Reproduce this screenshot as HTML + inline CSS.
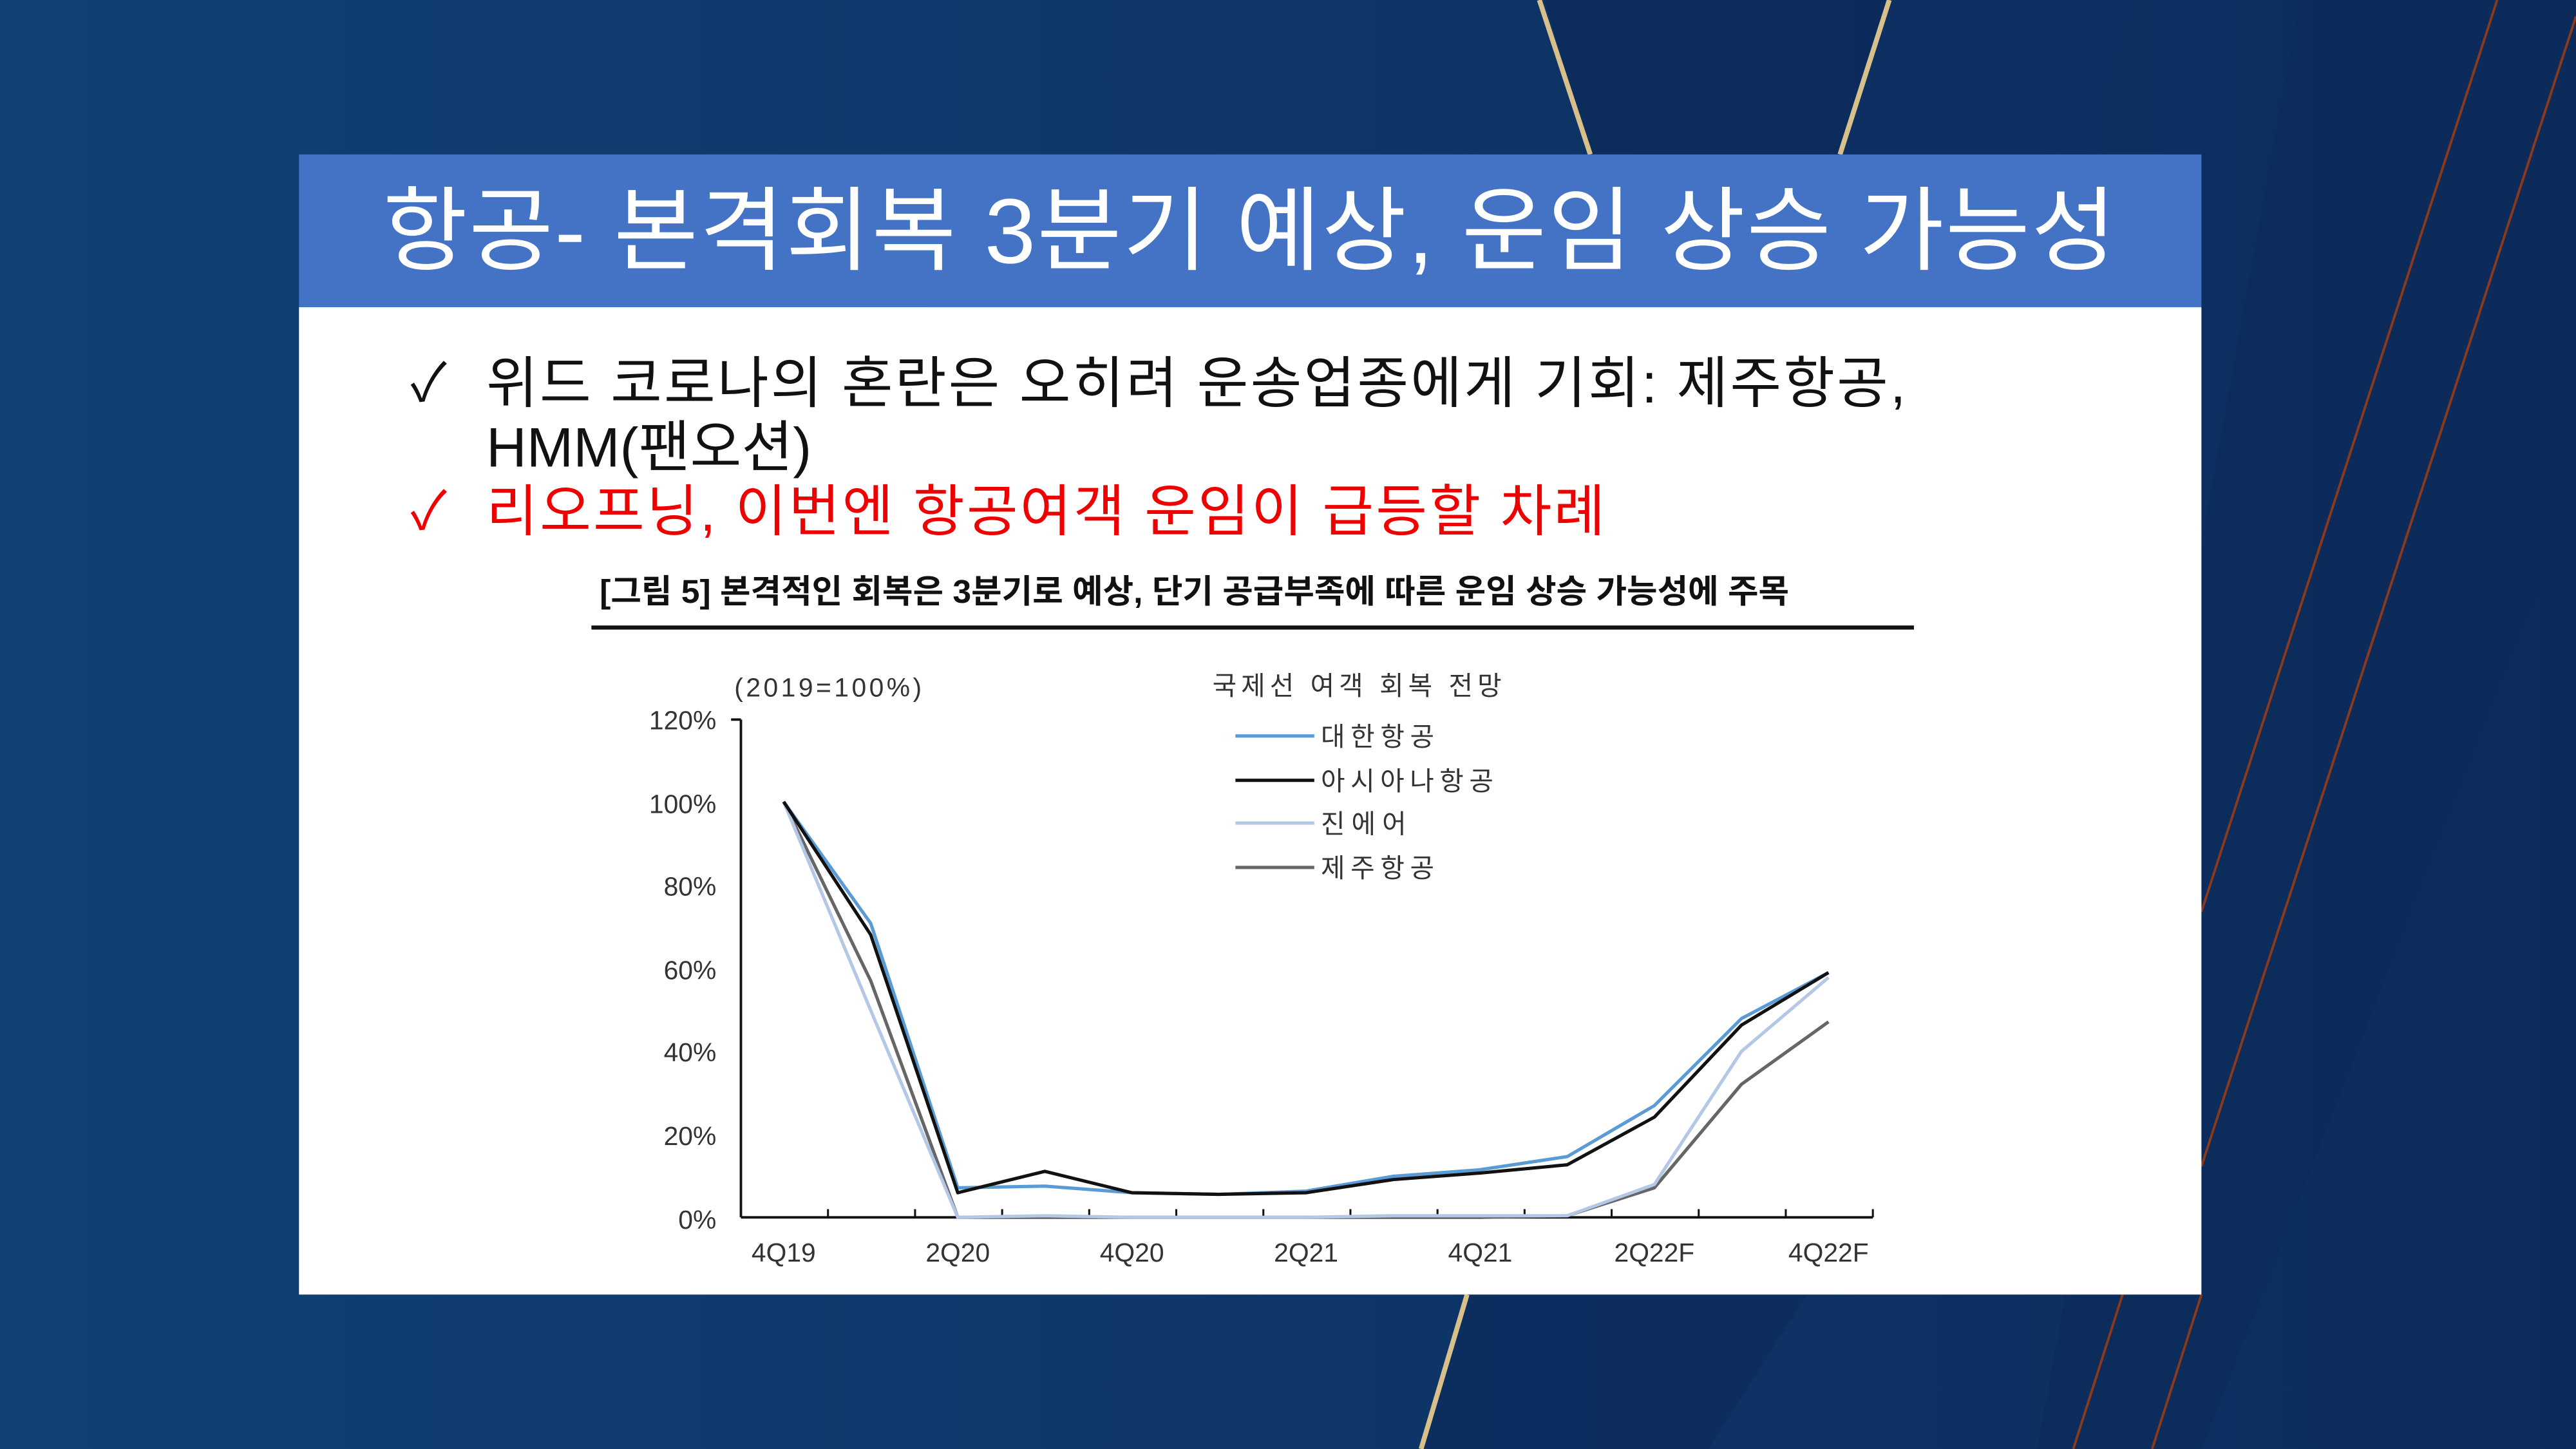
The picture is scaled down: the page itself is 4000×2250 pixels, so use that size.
<!DOCTYPE html>
<html><head><meta charset="utf-8"><style>
html,body{margin:0;padding:0;width:4000px;height:2250px;overflow:hidden;background:#0f3a6e}
svg{display:block}
text{font-family:"Liberation Sans","Noto Sans CJK KR","NanumGothic",sans-serif}
</style></head><body>
<svg width="4000" height="2250" viewBox="0 0 1568 882" preserveAspectRatio="none" xmlns="http://www.w3.org/2000/svg">
<defs>
<linearGradient id="bg" x1="0" y1="0" x2="1" y2="0">
<stop offset="0" stop-color="#114074"/><stop offset="0.6" stop-color="#0e3466"/><stop offset="1" stop-color="#0c2b5c"/>
</linearGradient>
</defs>
<rect width="1568" height="882" fill="url(#bg)"/>
<polygon points="940,0 1150,0 1120,94 968,94" fill="#0c2a5a" opacity="0.8"/>
<polygon points="1150,0 1300,0 1130,560 1120,94" fill="#0d2e60" opacity="0.6"/>
<polygon points="1400,0 1568,0 1568,300 1340,882 1240,882" fill="#0b2a58" opacity="0.5"/>
<polygon points="893,788 1100,788 1040,882 865,882" fill="#0c2a5a" opacity="0.6"/>
<line x1="937" y1="0" x2="968" y2="94" stroke="#d8c08a" stroke-width="3"/>
<line x1="1150" y1="0" x2="1120" y2="94" stroke="#d8c08a" stroke-width="3"/>
<line x1="893" y1="788" x2="865" y2="882" stroke="#d8c08a" stroke-width="3"/>
<line x1="1520" y1="0" x2="1340" y2="555" stroke="#8a3a1a" stroke-width="1.5"/>
<line x1="1568" y1="10" x2="1340" y2="710" stroke="#8a3a1a" stroke-width="1.5"/>
<line x1="1292" y1="788" x2="1262" y2="882" stroke="#8a3a1a" stroke-width="1.5"/>
<line x1="1340" y1="788" x2="1310" y2="882" stroke="#8a3a1a" stroke-width="1.5"/>

<rect x="182" y="94" width="1158" height="93" fill="#4472c4"/>
<text x="233" y="160" font-size="56" fill="#fff" textLength="1055" lengthAdjust="spacing">항공- 본격회복 3분기 예상, 운임 상승 가능성</text>
<rect x="182" y="187" width="1158" height="601" fill="#fff"/>

<text x="250" y="244" font-size="32" fill="#111">✓</text>
<text x="296" y="245" font-size="34" fill="#111" textLength="864" lengthAdjust="spacing">위드 코로나의 혼란은 오히려 운송업종에게 기회: 제주항공,</text>
<text x="296" y="284" font-size="34" fill="#111" textLength="198" lengthAdjust="spacing">HMM(팬오션)</text>
<text x="250" y="322" font-size="32" fill="#e00">✓</text>
<text x="296" y="323" font-size="34" fill="#e00" textLength="681" lengthAdjust="spacing">리오프닝, 이번엔 항공여객 운임이 급등할 차례</text>
<text x="365" y="367" font-size="20" font-weight="bold" fill="#111" textLength="724" lengthAdjust="spacingAndGlyphs">[그림 5] 본격적인 회복은 3분기로 예상, 단기 공급부족에 따른 운임 상승 가능성에 주목</text>
<line x1="360" y1="382" x2="1165" y2="382" stroke="#111" stroke-width="2.5"/>

<text x="447" y="424" font-size="16" fill="#333" textLength="114">(2019=100%)</text>
<text x="738" y="423" font-size="16" fill="#333" textLength="176" lengthAdjust="spacing">국제선 여객 회복 전망</text>
<g font-size="16" fill="#333">
<line x1="752" y1="448" x2="800" y2="448" stroke="#5b9bd5" stroke-width="2"/><text x="804" y="454" textLength="69">대한항공</text>
<line x1="752" y1="475" x2="800" y2="475" stroke="#111" stroke-width="2"/><text x="804" y="481" textLength="105">아시아나항공</text>
<line x1="752" y1="501" x2="800" y2="501" stroke="#b4c7e7" stroke-width="2"/><text x="804" y="507" textLength="52">진에어</text>
<line x1="752" y1="528" x2="800" y2="528" stroke="#666" stroke-width="2"/><text x="804" y="534" textLength="69">제주항공</text>
</g>
<g font-size="16" fill="#333" text-anchor="end">
<text x="436" y="444">120%</text><text x="436" y="495">100%</text><text x="436" y="545">80%</text>
<text x="436" y="596">60%</text><text x="436" y="646">40%</text><text x="436" y="697">20%</text><text x="436" y="748">0%</text>
</g>
<line x1="451" y1="438" x2="451" y2="741" stroke="#111" stroke-width="1.5"/>
<line x1="445" y1="438" x2="451" y2="438" stroke="#111" stroke-width="1.5"/>
<line x1="451" y1="741" x2="1140" y2="741" stroke="#111" stroke-width="1.5"/>
<g stroke="#111" stroke-width="1.2">
<line x1="504" y1="736" x2="504" y2="741"/><line x1="557" y1="736" x2="557" y2="741"/><line x1="610" y1="736" x2="610" y2="741"/><line x1="663" y1="736" x2="663" y2="741"/><line x1="716" y1="736" x2="716" y2="741"/><line x1="769" y1="736" x2="769" y2="741"/><line x1="822" y1="736" x2="822" y2="741"/><line x1="875" y1="736" x2="875" y2="741"/><line x1="928" y1="736" x2="928" y2="741"/><line x1="981" y1="736" x2="981" y2="741"/><line x1="1034" y1="736" x2="1034" y2="741"/><line x1="1087" y1="736" x2="1087" y2="741"/><line x1="1140" y1="736" x2="1140" y2="741"/>
</g>
<g font-size="16" fill="#333" text-anchor="middle">
<text x="477" y="768">4Q19</text><text x="583" y="768">2Q20</text><text x="689" y="768">4Q20</text><text x="795" y="768">2Q21</text><text x="901" y="768">4Q21</text><text x="1007" y="768">2Q22F</text><text x="1113" y="768">4Q22F</text>
</g>
<g fill="none" stroke-width="2" stroke-linejoin="round">
<polyline stroke="#666" points="477,488 530,597 583,741 636,741 689,741 742,741 795,741 848,741 901,741 954,740 1007,723 1060,660 1113,622"/>
<polyline stroke="#b4c7e7" points="477,488 530,615 583,741 636,740 689,741 742,741 795,741 848,740 901,740 954,740 1007,721 1060,640 1113,595"/>
<polyline stroke="#5b9bd5" points="477,488 530,562 583,723 636,722 689,726 742,727 795,725 848,716 901,712 954,704 1007,673 1060,620 1113,592"/>
<polyline stroke="#111" points="477,488 530,569 583,726 636,713 689,726 742,727 795,726 848,718 901,714 954,709 1007,680 1060,624 1113,592"/>
</g>
</svg>
</body></html>
